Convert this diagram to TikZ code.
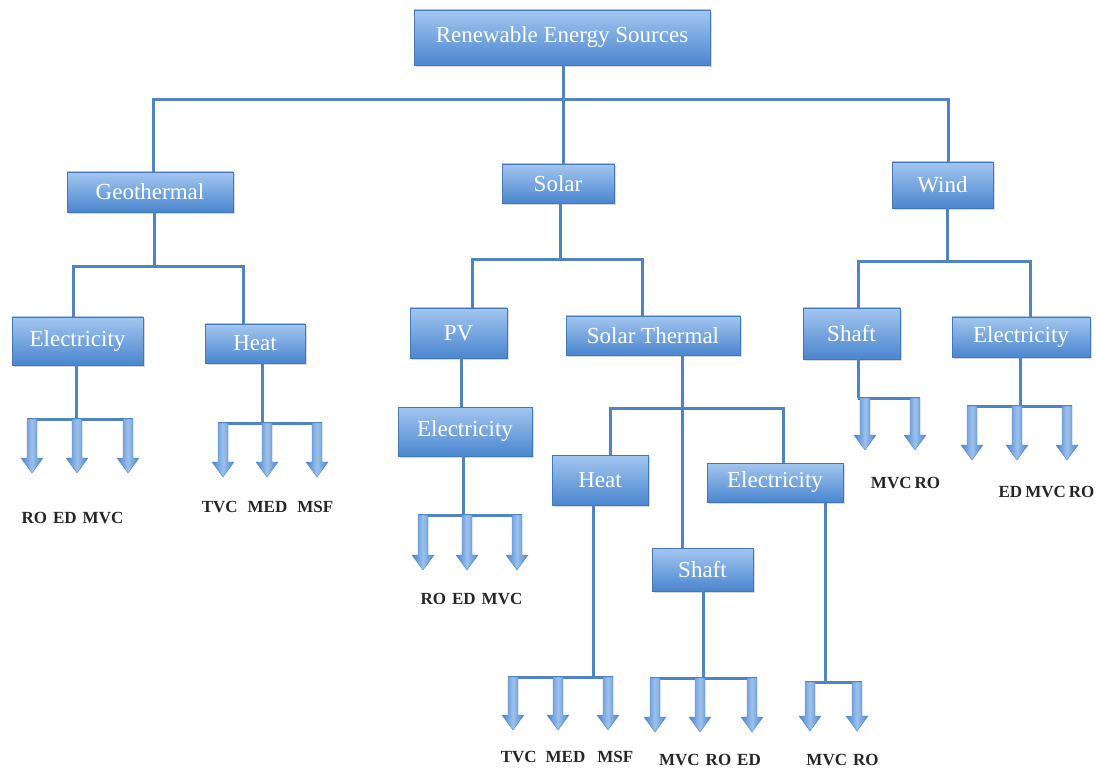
\documentclass[tikz,border=0pt]{standalone}
\usepackage{fontspec}
\setmainfont{Liberation Serif}
\usetikzlibrary{shadows}
\definecolor{connC}{HTML}{4F83C2}
\definecolor{boxTop}{HTML}{A3C6F0}
\definecolor{boxBot}{HTML}{4A86CE}
\definecolor{boxEdge}{HTML}{4277B8}
\definecolor{arrB}{HTML}{4A84CC}
\definecolor{arrL}{HTML}{9CC0EC}
\definecolor{labC}{HTML}{262626}
\tikzset{
  box/.style={rectangle, top color=boxTop, bottom color=boxBot, draw=boxEdge, line width=0.6pt,
    text=white, inner sep=0pt, font=\fontsize{23}{27}\selectfont,
    drop shadow={opacity=0.3, shadow xshift=1.5pt, shadow yshift=-2pt}},
  conn/.style={draw=connC, line width=3pt},
  lab/.style={text=labC, font=\fontsize{17}{20}\selectfont\bfseries, inner sep=0pt},
  pics/barr/.style={code={
    \shade[left color=arrB, right color=arrB, middle color=arrL, draw=arrB, line width=0.4pt]
      (-5,0) -- (-5,#1-15) -- (-11,#1-15) -- (0,#1) -- (11,#1-15) -- (5,#1-15) -- (5,0) -- cycle;
  }}
}
\begin{document}
\begin{tikzpicture}[x=1pt,y=-1pt]
\useasboundingbox (0,0) rectangle (1096,778);
\fill[white] (0,0) rectangle (1096,778);

% ---------- nodes ----------
\node[box, minimum width=296pt, minimum height=55pt] (root) at (562,37.5) {Renewable Energy Sources};
\node[box, minimum width=166pt, minimum height=40pt] (geo) at (150,192) {Geothermal};
\node[box, minimum width=112pt, minimum height=39pt] (solar) at (558,183.5) {Solar};
\node[box, minimum width=101pt, minimum height=46pt] (wind) at (942.5,185) {Wind};
\node[box, minimum width=131pt, minimum height=48pt] (gElec) at (77.5,341) {Electricity};
\node[box, minimum width=100pt, minimum height=39pt] (gHeat) at (255,343.5) {Heat};
\node[box, minimum width=97pt, minimum height=50pt] (pv) at (458.5,333) {PV};
\node[box, minimum width=174pt, minimum height=39pt] (st) at (653,335.5) {Solar Thermal};
\node[box, minimum width=134pt, minimum height=49pt] (pvElec) at (465,431.5) {Electricity};
\node[box, minimum width=96pt, minimum height=50pt] (stHeat) at (600,480) {Heat};
\node[box, minimum width=136pt, minimum height=39pt] (stElec) at (775,482.5) {Electricity};
\node[box, minimum width=101pt, minimum height=43pt] (stShaft) at (702.5,569.5) {Shaft};
\node[box, minimum width=97pt, minimum height=51pt] (wShaft) at (851.5,333.5) {Shaft};
\node[box, minimum width=138pt, minimum height=40pt] (wElec) at (1021,337) {Electricity};

% ---------- tree connectors ----------
\coordinate (b0) at (563,100);
\draw[conn] (root.south -| b0) -- (b0);
\draw[conn] (geo.north -| 153,0) |- (b0) -| (wind.north -| 948,0);
\draw[conn] (b0) -- (solar.north -| b0);

\coordinate (b1) at (154,267);
\draw[conn] (geo.south -| b1) -- (b1);
\draw[conn] (gElec.north -| 73,0) |- (b1) -| (gHeat.north -| 243,0);

\coordinate (b3) at (560,260);
\draw[conn] (solar.south -| b3) -- (b3);
\draw[conn] (pv.north -| 472,0) |- (b3) -| (st.north -| 642,0);

\draw[conn] (pv.south -| 461,0) -- (pvElec.north -| 461,0);

\coordinate (b4) at (682,408);
\draw[conn] (st.south -| b4) -- (b4);
\draw[conn] (stHeat.north -| 610,0) |- (b4) -| (stElec.north -| 783,0);
\draw[conn] (b4) -- (stShaft.north -| b4);

\coordinate (b5) at (947,262);
\draw[conn] (wind.south -| b5) -- (b5);
\draw[conn] (wShaft.north -| 858,0) |- (b5) -| (wElec.north -| 1030,0);

% ---------- arrow fans ----------
% Geothermal / Electricity
\coordinate (g1) at (76,419);
\coordinate (g1a) at (32,419); \coordinate (g1b) at (77,419); \coordinate (g1c) at (128,419);
\draw[conn] (gElec.south -| g1) -- (g1);
\draw[conn, shorten <=-5pt, shorten >=-5pt] (g1a) -- (g1c);
\pic at (g1a) {barr=54}; \pic at (g1b) {barr=54}; \pic at (g1c) {barr=54};
\node[lab] (l1) at (72.5,518) {RO\hspace{6pt}ED\hspace{6pt}MVC};

% Geothermal / Heat
\coordinate (g2) at (262,423);
\coordinate (g2a) at (223,423); \coordinate (g2b) at (267,423); \coordinate (g2c) at (317,423);
\draw[conn] (gHeat.south -| g2) -- (g2);
\draw[conn, shorten <=-5pt, shorten >=-5pt] (g2a) -- (g2c);
\pic at (g2a) {barr=54}; \pic at (g2b) {barr=54}; \pic at (g2c) {barr=54};
\node[lab] (l2) at (267.5,507) {TVC\hspace{10pt}MED\hspace{10pt}MSF};

% PV / Electricity
\coordinate (p1) at (463,515);
\coordinate (p1a) at (423,515); \coordinate (p1b) at (467,515); \coordinate (p1c) at (517,515);
\draw[conn] (pvElec.south -| p1) -- (p1);
\draw[conn, shorten <=-5pt, shorten >=-5pt] (p1a) -- (p1c);
\pic at (p1a) {barr=55}; \pic at (p1b) {barr=55}; \pic at (p1c) {barr=55};
\node[lab] (l3) at (471.5,599) {RO\hspace{6pt}ED\hspace{6pt}MVC};

% Solar thermal / Heat
\coordinate (s1) at (593,677);
\coordinate (s1a) at (513,677); \coordinate (s1b) at (558,677); \coordinate (s1c) at (608,677);
\draw[conn] (stHeat.south -| s1) -- (s1);
\draw[conn, shorten <=-5pt, shorten >=-5pt] (s1a) -- (s1c);
\pic at (s1a) {barr=53}; \pic at (s1b) {barr=53}; \pic at (s1c) {barr=53};
\node[lab] (l4) at (567,757) {TVC\hspace{9pt}MED\hspace{12pt}MSF};

% Solar thermal / Shaft
\coordinate (s2) at (703,678);
\coordinate (s2a) at (655,678); \coordinate (s2b) at (700,678); \coordinate (s2c) at (752,678);
\draw[conn] (stShaft.south -| s2) -- (s2);
\draw[conn, shorten <=-5pt, shorten >=-5pt] (s2a) -- (s2c);
\pic at (s2a) {barr=54}; \pic at (s2b) {barr=54}; \pic at (s2c) {barr=54};
\node[lab] (l5) at (710,760) {MVC\hspace{6pt}RO\hspace{6pt}ED};

% Solar thermal / Electricity
\coordinate (s3) at (825,682);
\coordinate (s3a) at (810,682); \coordinate (s3b) at (857,682);
\draw[conn] (stElec.south -| s3) -- (s3);
\draw[conn, shorten <=-5pt, shorten >=-5pt] (s3a) -- (s3b);
\pic at (s3a) {barr=49}; \pic at (s3b) {barr=49};
\node[lab] (l6) at (842.5,760) {MVC\hspace{6pt}RO};

% Wind / Shaft
\coordinate (w1) at (858,398);
\coordinate (w1a) at (865,398); \coordinate (w1b) at (915,398);
\draw[conn] (wShaft.south -| w1) -- (w1);
\draw[conn, shorten >=-5pt] (w1) -- (w1b);
\pic at (w1a) {barr=52}; \pic at (w1b) {barr=52};
\node[lab] (l7) at (905.5,483) {MVC\hspace{3pt}RO};

% Wind / Electricity
\coordinate (w2) at (1020,406);
\coordinate (w2a) at (972,406); \coordinate (w2b) at (1017,406); \coordinate (w2c) at (1067,406);
\draw[conn] (wElec.south -| w2) -- (w2);
\draw[conn, shorten <=-5pt, shorten >=-5pt] (w2a) -- (w2c);
\pic at (w2a) {barr=54}; \pic at (w2b) {barr=54}; \pic at (w2c) {barr=54};
\node[lab] (l8) at (1046.5,492) {ED\hspace{3pt}MVC\hspace{3pt}RO};
\end{tikzpicture}
\end{document}
